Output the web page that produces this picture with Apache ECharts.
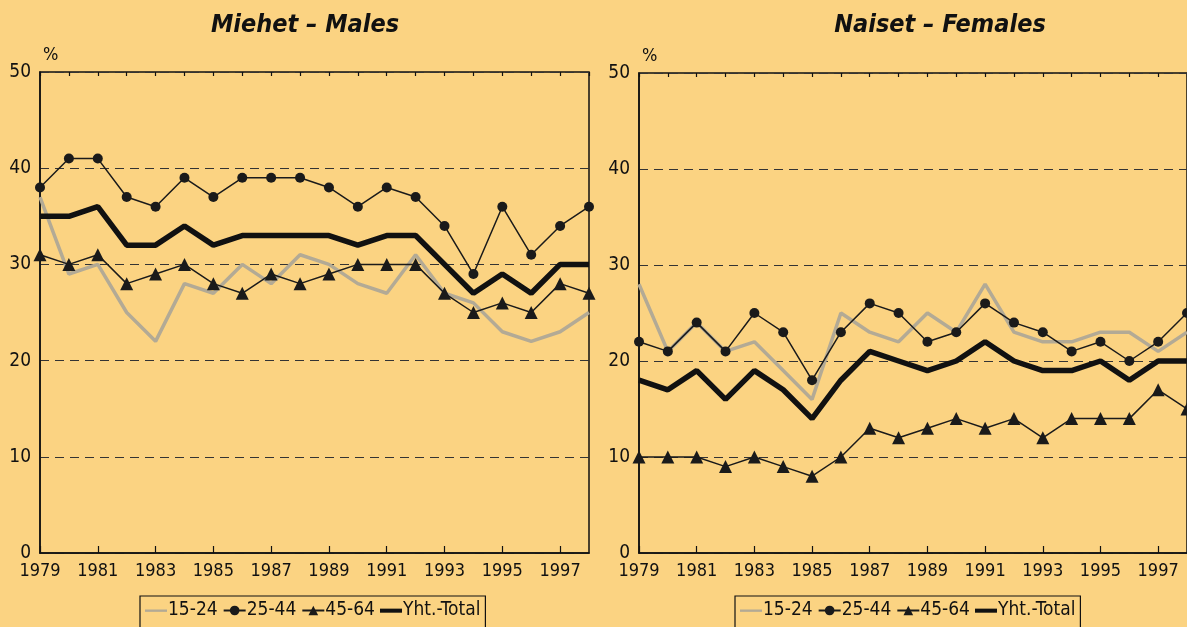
<!DOCTYPE html>
<html><head><meta charset="utf-8">
<script src="https://cdn.jsdelivr.net/npm/echarts@6/dist/echarts.min.js"></script>
<style>html,body{margin:0;padding:0;background:#fbd382;}#c{width:1187px;height:627px;}</style>
</head><body><div id="c"></div>
<script>
const years = ['1979','1980','1981','1982','1983','1984','1985','1986','1987','1988','1989','1990','1991','1992','1993','1994','1995','1996','1997','1998'];
const yTicks = [0,10,20,30,40,50];
const seriesNames = ['15-24','25-44','45-64','Yht.-Total'];
const titles = ['Miehet – Males','Naiset – Females'];

const males_15_24 = [37,29,30,25,22,28,27,30,28,31,30,28,27,31,27,26,23,22,23,25];
const males_25_44 = [38,41,41,37,36,39,37,39,39,39,38,36,38,37,34,29,36,31,34,36];
const males_45_64 = [31,30,31,28,29,30,28,27,29,28,29,30,30,30,27,25,26,25,28,27];
const males_total = [35,35,36,32,32,34,32,33,33,33,33,32,33,33,30,27,29,27,30,30];

const females_15_24 = [28,21,24,21,22,19,16,25,23,22,25,23,28,23,22,22,23,23,21,23];
const females_25_44 = [22,21,24,21,25,23,18,23,26,25,22,23,26,24,23,21,22,20,22,25];
const females_45_64 = [10,10,10,9,10,9,8,10,13,12,13,14,13,14,12,14,14,14,17,15];
const females_total = [18,17,19,16,19,17,14,18,21,20,19,20,22,20,19,19,20,18,20,20];

const FONT = "'Liberation Sans Narrow','DejaVu Sans Condensed',sans-serif";
const chart = echarts.init(document.getElementById('c'));

function mkSeries(idx, d) {
  return [
    {name: seriesNames[0], type:'line', xAxisIndex:idx, yAxisIndex:idx, data:d[0], symbol:'none',
     lineStyle:{color:'#b3aa95', width:3.5}, itemStyle:{color:'#b3aa95'}, z:2},
    {name: seriesNames[1], type:'line', xAxisIndex:idx, yAxisIndex:idx, data:d[1], symbol:'circle', symbolSize:10,
     lineStyle:{color:'#1a1a1a', width:1.5}, itemStyle:{color:'#1a1a1a'}, z:3},
    {name: seriesNames[2], type:'line', xAxisIndex:idx, yAxisIndex:idx, data:d[2], symbol:'triangle', symbolSize:13,
     lineStyle:{color:'#1a1a1a', width:1.5}, itemStyle:{color:'#1a1a1a'}, z:3},
    {name: seriesNames[3], type:'line', xAxisIndex:idx, yAxisIndex:idx, data:d[3], symbol:'none',
     lineStyle:{color:'#111', width:5.5}, itemStyle:{color:'#111'}, z:4}
  ];
}

function mkX(idx, interval, len, showLabel) {
  return {type:'category', gridIndex:idx, data:years, boundaryGap:false,
    axisLine:{show:showLabel, lineStyle:{color:'#111', width:1.5}},
    axisTick:{show:true, inside:true, length:len, interval:interval, lineStyle:{color:'#111', width:1.2}},
    axisLabel:{show:showLabel, interval:1, color:'#111', fontFamily:FONT, fontSize:18, margin:9},
    splitLine:{show:false}};
}
function mkY(idx) {
  return {type:'value', gridIndex:idx, min:yTicks[0], max:yTicks[yTicks.length-1], interval:10,
    name:'%', nameLocation:'end', nameGap:8,
    nameTextStyle:{color:'#111', fontFamily:FONT, fontSize:18, align:'left', padding:[0,0,0,3]},
    axisLine:{show:true, lineStyle:{color:'#111', width:1.5}},
    axisTick:{show:false},
    axisLabel:{color:'#111', fontFamily:FONT, fontSize:19, margin:9},
    splitLine:{show:true, lineStyle:{color:'#333', type:[9,6], width:1}}};
}
const thinIcon = 'path://M0,0 M26,12 M0,4.8 L26,4.8 L26,7.6 L0,7.6 Z';
const thickIcon = 'path://M0,0 M26,12 M0,3.8 L26,3.8 L26,8.6 L0,8.6 Z';
function mkLegend(left) {
  return {left:left, top:596, orient:'horizontal', itemWidth:22, itemHeight:12, itemGap:5,
    borderColor:'#111', borderWidth:1.2, padding:[5,5,20,5],
    textStyle:{color:'#111', fontFamily:FONT, fontSize:19, padding:[0,0,0,-4]},
    data:[
      {name:seriesNames[0], icon:thinIcon},
      {name:seriesNames[1]},
      {name:seriesNames[2]},
      {name:seriesNames[3], icon:thickIcon}
    ]};
}

chart.setOption({
  backgroundColor:'#fbd382',
  animation:false,
  title:[
    {text:titles[0], left:300, top:8, textAlign:'center',
     textStyle:{fontFamily:FONT, fontStyle:'italic', fontWeight:'bold', fontSize:25, color:'#111'}},
    {text:titles[1], left:935, top:8, textAlign:'center',
     textStyle:{fontFamily:FONT, fontStyle:'italic', fontWeight:'bold', fontSize:25, color:'#111'}}
  ],
  legend:[mkLegend(140), mkLegend(735)],
  grid:[
    {left:40, top:72, width:549, height:481, show:true, borderColor:'#111', borderWidth:1.5, backgroundColor:'transparent'},
    {left:639, top:73, width:549, height:480, show:true, borderColor:'#111', borderWidth:1.5, backgroundColor:'transparent'}
  ],
  xAxis:[mkX(0, 1, 7, true), mkX(1, 1, 7, true), mkX(0, 0, 4, false), mkX(1, 0, 4, false)],
  yAxis:[mkY(0), mkY(1)],
  series:[].concat(
    mkSeries(0,[males_15_24,males_25_44,males_45_64,males_total]),
    mkSeries(1,[females_15_24,females_25_44,females_45_64,females_total])
  )
});
</script></body></html>
